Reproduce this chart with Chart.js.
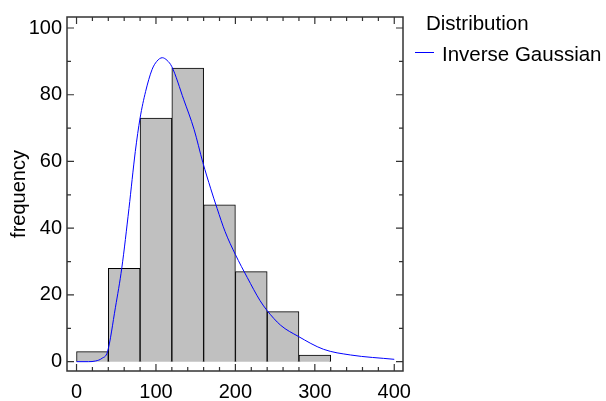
<!DOCTYPE html>
<html lang="en">
<head>
    <meta charset="UTF-8">
    <title>Inverse Gaussian fit</title>
    <script src="https://cdn.jsdelivr.net/npm/chart.js"></script>
    <style>
        body { margin: 0; background: #fff; }
        #wrap { width: 606px; height: 401px; }
    </style>
</head>
<body>
    <div id="wrap"><canvas id="histChart"></canvas></div>

    <script>
        // Histogram bins (centre of each 40-wide class) and counts
        const binCenters = [20, 60, 100, 140, 180, 220, 260, 300];
        const binCounts = [3, 28, 73, 88, 47, 27, 15, 2];

        // Fitted Inverse Gaussian curve
        const curveX = [0, 15, 24, 32, 39, 49, 57, 66, 74, 80, 87, 95, 101, 108, 114, 120, 135, 148, 159, 169, 177, 187, 200, 215, 231, 240, 257, 279, 311, 345, 400];
        const curveY = [0, 0, 0.2, 1.0, 3.0, 16.3, 28.1, 45.9, 63, 73, 81, 87.5, 90, 91.1, 90.3, 88.4, 78.5, 69.6, 59.7, 51.8, 45.9, 39.0, 32.1, 25.2, 18.3, 15.3, 10.9, 7.6, 3.7, 2.0, 0.7];

        const xTicks = [0, 100, 200, 300, 400];
        const yTicks = [0, 20, 40, 60, 80, 100];
        const xMinor = 20;
        const yMinor = 10;

        const FONT = "'Liberation Sans', Arial, sans-serif";

        // frame, inward ticks and the legend
        const framePlugin = {
            id: 'frame',
            afterDraw(chart) {
                const { ctx, chartArea: a, scales } = chart;
                const xs = scales.x, ys = scales.y;
                ctx.save();
                ctx.strokeStyle = '#333';
                ctx.lineWidth = 1.5;
                ctx.strokeRect(a.left, a.top, a.right - a.left, a.bottom - a.top);

                ctx.lineWidth = 1.2;
                ctx.beginPath();
                for (let v = 0; v <= 400; v += xMinor) {
                    const px = xs.getPixelForValue(v);
                    const len = v % 100 === 0 ? 7 : 4;
                    ctx.moveTo(px, a.bottom); ctx.lineTo(px, a.bottom - len);
                    ctx.moveTo(px, a.top); ctx.lineTo(px, a.top + len);
                }
                for (let v = 0; v <= 100; v += yMinor) {
                    const py = ys.getPixelForValue(v);
                    const len = v % 20 === 0 ? 7 : 4;
                    ctx.moveTo(a.left, py); ctx.lineTo(a.left + len, py);
                    ctx.moveTo(a.right, py); ctx.lineTo(a.right - len, py);
                }
                ctx.stroke();

                // legend
                const ds = chart.data.datasets[1];
                ctx.fillStyle = '#000';
                ctx.font = '20.5px ' + FONT;
                ctx.textBaseline = 'alphabetic';
                ctx.fillText('Distribution', 426, 30);
                ctx.fillText(ds.label, 442, 61);
                ctx.strokeStyle = ds.borderColor;
                ctx.lineWidth = 1;
                ctx.beginPath();
                ctx.moveTo(415, 52.5); ctx.lineTo(434, 52.5);
                ctx.stroke();
                ctx.restore();
            }
        };

        const ctx = document.getElementById('histChart').getContext('2d');
        const histChart = new Chart(ctx, {
            data: {
                datasets: [{
                    type: 'bar',
                    label: 'frequency',
                    data: binCenters.map((c, i) => ({ x: c, y: binCounts[i] })),
                    backgroundColor: '#c0c0c0',
                    borderColor: '#000',
                    borderWidth: 1,
                    barPercentage: 1,
                    categoryPercentage: 1,
                    order: 2
                }, {
                    type: 'line',
                    label: 'Inverse Gaussian',
                    data: curveX.map((x, i) => ({ x: x, y: curveY[i] })),
                    borderColor: '#0000ff',
                    borderWidth: 1,
                    pointRadius: 0,
                    cubicInterpolationMode: 'monotone',
                    fill: false,
                    order: 1
                }]
            },
            options: {
                responsive: true,
                maintainAspectRatio: false,
                animation: false,
                layout: { padding: { left: 0, top: 13, right: 203, bottom: 0 } },
                plugins: { legend: { display: false }, tooltip: { enabled: false } },
                scales: {
                    x: {
                        type: 'linear',
                        min: -12,
                        max: 411,
                        offset: false,
                        grid: { display: false, drawTicks: false },
                        border: { display: false },
                        afterBuildTicks: s => { s.ticks = xTicks.map(v => ({ value: v })); },
                        afterFit: s => { s.height = 30; },
                        ticks: { color: '#000', padding: 9, font: { family: FONT, size: 20 } }
                    },
                    y: {
                        min: -2.8,
                        max: 103.3,
                        grid: { display: false, drawTicks: false },
                        border: { display: false },
                        afterBuildTicks: s => { s.ticks = yTicks.map(v => ({ value: v })); },
                        afterFit: s => { s.width = 67; },
                        title: { display: true, text: 'frequency', color: '#000', padding: { top: 7, bottom: 0 }, font: { family: FONT, size: 20 } },
                        ticks: { color: '#000', padding: 5, font: { family: FONT, size: 20 } }
                    }
                }
            },
            plugins: [framePlugin]
        });
    </script>
</body>
</html>
